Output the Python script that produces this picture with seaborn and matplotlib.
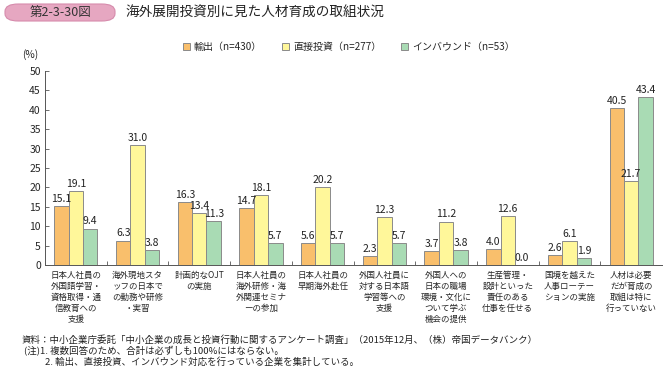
import matplotlib
matplotlib.use("Agg")
import matplotlib.pyplot as plt
import seaborn as sns
import pandas as pd
import numpy as np
from matplotlib.patches import FancyBboxPatch, Patch

categories = [
    "日本人社員の\n外国語学習・\n資格取得・通\n信教育への\n支援",
    "海外現地スタ\nッフの日本で\nの勤務や研修\n・実習",
    "計画的なOJT\nの実施",
    "日本人社員の\n海外研修・海\n外関連セミナ\nーの参加",
    "日本人社員の\n早期海外赴任",
    "外国人社員に\n対する日本語\n学習等への\n支援",
    "外国人への\n日本の職場\n環境・文化に\nついて学ぶ\n機会の提供",
    "生産管理・\n設計といった\n責任のある\n仕事を任せる",
    "国境を越えた\n人事ローテー\nションの実施",
    "人材は必要\nだが育成の\n取組は特に\n行っていない",
]
series_names = ["輸出（n=430）", "直接投資（n=277）", "インバウンド（n=53）"]
export_vals = [15.1, 6.3, 16.3, 14.7, 5.6, 2.3, 3.7, 4.0, 2.6, 40.5]
direct_vals = [19.1, 31.0, 13.4, 18.1, 20.2, 12.3, 11.2, 12.6, 6.1, 21.7]
inbound_vals = [9.4, 3.8, 11.3, 5.7, 5.7, 5.7, 3.8, 0.0, 1.9, 43.4]
yticks = [0, 5, 10, 15, 20, 25, 30, 35, 40, 45, 50]
colors = ["#F9BF6C", "#FFF79A", "#A9DBB4"]

sns.set_theme(style="white")
plt.rcParams['font.family'] = ['Noto Sans CJK JP', 'DejaVu Sans']

rows = []
for name, vals in zip(series_names, [export_vals, direct_vals, inbound_vals]):
    for c, v in zip(categories, vals):
        rows.append({"cat": c, "val": v, "series": name})
df = pd.DataFrame(rows)

fig = plt.figure(figsize=(6.64, 3.69), dpi=100)
ax = fig.add_axes([45/664, 1-265/369, 617/664, (265-71)/369])

sns.barplot(data=df, x="cat", y="val", hue="series", palette=colors,
            hue_order=series_names, order=categories, width=0.7, saturation=1,
            edgecolor="#8a8a8a", linewidth=0.7, ax=ax, legend=False)

for cont in ax.containers:
    ax.bar_label(cont, fmt="%.1f", fontsize=7.5, padding=1.5, color="#222222")

ax.set_ylim(0, 50)
ax.set_xlim(-0.5, 9.5)
ax.set_yticks(yticks)
ax.set_xlabel("")
ax.set_ylabel("")
for s in ["top", "right"]:
    ax.spines[s].set_visible(False)
for s in ["left", "bottom"]:
    ax.spines[s].set_color("#555555")
    ax.spines[s].set_linewidth(0.7)
ax.tick_params(axis="y", direction="in", length=3, width=0.6, color="#555555",
               labelsize=7.5, pad=3, left=True)
ax.tick_params(axis="x", which="major", length=0, labelsize=6.1, pad=4)
ax.set_xticks(np.arange(0.5, 9.5, 1), minor=True)
ax.tick_params(axis="x", which="minor", direction="in", length=3, width=0.6,
               color="#555555", bottom=True)
for lab in ax.get_xticklabels():
    lab.set_linespacing(1.3)
    lab.set_verticalalignment("top")

fig.text(22/664, 1-55/369, "(%)", fontsize=7.3, va="center", ha="left")

handles = [Patch(facecolor=c, edgecolor="#8a8a8a", linewidth=0.7) for c in colors]
fig.legend(handles, series_names, loc="center", bbox_to_anchor=(349/664, 1-47/369),
           ncol=3, frameon=False, fontsize=7.2, handlelength=0.7, handleheight=0.7,
           handletextpad=0.4, columnspacing=2.0)

# title
box = FancyBboxPatch((5/664, 1-21/369), 110/664, 17/369,
                     boxstyle="round,pad=0,rounding_size=0.02",
                     transform=fig.transFigure, facecolor="#E6A7C1",
                     edgecolor="#D68BAC", linewidth=0.8)
fig.patches.append(box)
fig.text(60/664, 1-12.5/369, "第2-3-30図", fontsize=9, ha="center", va="center",
         color="#333333")
fig.text(125/664, 1-12.5/369, "海外展開投資別に見た人材育成の取組状況", fontsize=9.8,
         ha="left", va="center", color="#222222")

notes = [
    (22, 340, "資料：中小企業庁委託「中小企業の成長と投資行動に関するアンケート調査」（2015年12月、（株）帝国データバンク）"),
    (24, 351, "(注)1. 複数回答のため、合計は必ずしも100%にはならない。"),
    (45, 362, "2. 輸出、直接投資、インバウンド対応を行っている企業を集計している。"),
]
for x, y, t in notes:
    fig.text(x/664, 1-y/369, t, fontsize=6.8, ha="left", va="center", color="#222222")

fig.savefig("out.png", dpi=100)
